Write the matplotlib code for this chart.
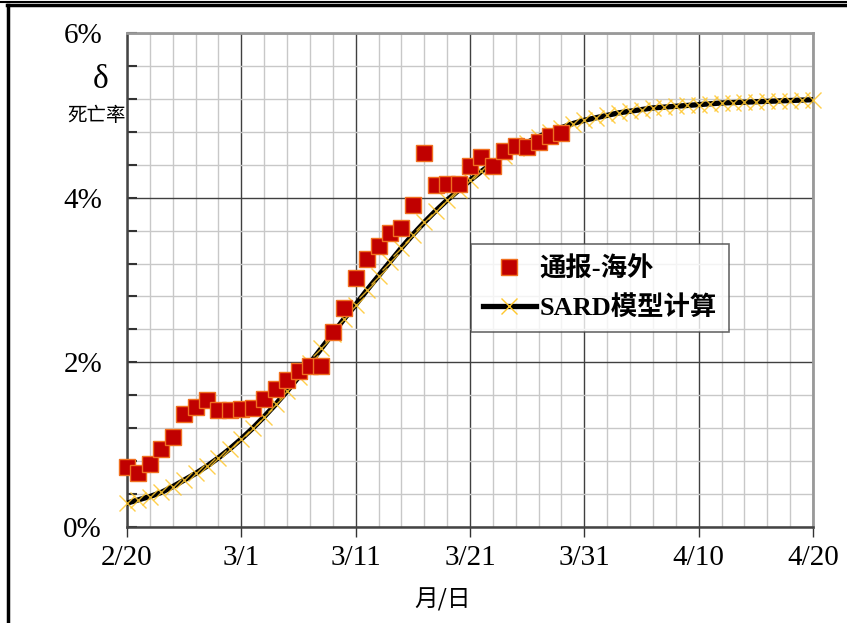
import numpy as np
import matplotlib
matplotlib.use('Agg')
import matplotlib.pyplot as plt
from matplotlib.lines import Line2D
from matplotlib.ticker import MultipleLocator

# day index counted from 2/20
report_days = list(range(0, 39))
report_rate = [0.73, 0.65, 0.77, 0.95, 1.09, 1.37, 1.46, 1.54, 1.42, 1.42,
               1.43, 1.44, 1.55, 1.68, 1.79, 1.89, 1.95, 1.95, 2.37, 2.66,
               3.02, 3.25, 3.41, 3.57, 3.63, 3.91, 4.54, 4.15, 4.17, 4.17,
               4.38, 4.49, 4.38, 4.57, 4.63, 4.61, 4.68, 4.75, 4.79]

model_days = list(range(0, 61))
model_rate = [0.29, 0.33, 0.37, 0.42, 0.49, 0.57, 0.65, 0.74, 0.84, 0.95,
              1.07, 1.20, 1.34, 1.49, 1.65, 1.82, 1.99, 2.17, 2.35, 2.53,
              2.70, 2.88, 3.05, 3.22, 3.39, 3.55, 3.70, 3.84, 3.97, 4.09,
              4.21, 4.32, 4.42, 4.51, 4.60, 4.67, 4.74, 4.80, 4.85, 4.90,
              4.94, 4.97, 5.00, 5.03, 5.05, 5.07, 5.09, 5.10, 5.11, 5.12,
              5.13, 5.14, 5.15, 5.155, 5.16, 5.165, 5.17, 5.175, 5.18, 5.185,
              5.19]

x_ticks = [0, 10, 20, 30, 40, 50, 60]
x_labels = ['2/20', '3/1', '3/11', '3/21', '3/31', '4/10', '4/20']
y_ticks = [0, 2, 4, 6]
y_labels = ['0%', '2%', '4%', '6%']

serif = ['Liberation Serif', 'Noto Sans CJK SC']
plt.rcParams['font.family'] = serif

fig = plt.figure(figsize=(8.47, 6.23), dpi=100)
ax = fig.add_axes([127 / 847, 1 - 527 / 623, 686 / 847, 494 / 623])

ax.set_xlim(0, 60)
ax.set_ylim(0, 6)

ax.xaxis.set_minor_locator(MultipleLocator(2))
ax.yaxis.set_minor_locator(MultipleLocator(0.4))
ax.set_xticks(x_ticks)
ax.set_xticklabels(x_labels, fontsize=21)
ax.set_yticks(y_ticks)
ax.set_yticklabels(y_labels, fontsize=21)

ax.grid(which='minor', color='#c8c8c8', lw=1.0, zorder=0)
ax.grid(which='major', color='#404040', lw=1.0, zorder=0)
ax.set_axisbelow(True)

ax.tick_params(axis='x', which='major', direction='out', length=7, width=1, color='#333333', pad=6)
ax.tick_params(axis='x', which='minor', length=0)
ax.tick_params(axis='y', which='major', direction='in', length=7, width=1.5, color='#333333', pad=18)
ax.tick_params(axis='y', which='minor', direction='in', length=7, width=1.5, color='#333333')

for side in ['left', 'bottom']:
    ax.spines[side].set_color('#444444')
    ax.spines[side].set_linewidth(1.8)
for side in ['top', 'right']:
    ax.spines[side].set_color('#999999')
    ax.spines[side].set_linewidth(2)

# model curve: thick black line with yellow crosses at each day
ax.plot(model_days, model_rate, color='black', lw=3.8, zorder=3, solid_capstyle='round')
ax.plot(model_days, model_rate, ls='none', marker='x', ms=11, mew=1.0,
        color='#ffc72c', alpha=0.85, zorder=4, clip_on=False)

# reported values
ax.plot(report_days, report_rate, ls='none', marker='s', ms=11,
        mfc='#c00000', mec='#f07020', mew=1.0, zorder=5, clip_on=False)

handles = [
    Line2D([], [], ls='none', marker='s', ms=11, mfc='#c00000', mec='#f07020', mew=1.0),
    Line2D([], [], color='black', lw=3.8, marker='x', ms=11, mew=1.0, mec='#ffc72c'),
]
leg = ax.legend(handles, ['通报-海外', 'SARD模型计算'], loc='upper left',
                bbox_to_anchor=((471 - 127) / 686, (527 - 244) / 494),
                prop={'family': serif, 'weight': 'bold', 'size': 19},
                frameon=True, fancybox=False, borderpad=0.45, labelspacing=0.55,
                handlelength=2.0, handletextpad=0.15, borderaxespad=0)
leg.get_frame().set_edgecolor('#444444')
leg.get_frame().set_linewidth(1.2)
leg.set_zorder(6)

fig.text(101 / 847, 1 - 80 / 623, 'δ', fontsize=24, ha='center', va='center')
fig.text(97 / 847, 1 - 116 / 623, '死亡率', fontsize=14, ha='center', va='center',
         family=['Noto Sans CJK SC'])
fig.text(443 / 847, 1 - 600 / 623, '月/日', fontsize=17, ha='center', va='center',
         family=['Noto Sans CJK SC'])

# outer frame: double rule along top, single rule on the left
fig.add_artist(Line2D([0, 1], [1 - 1.5 / 623, 1 - 1.5 / 623], color='black', lw=1.5,
                      transform=fig.transFigure))
fig.add_artist(Line2D([7 / 847, 1], [1 - 5 / 623, 1 - 5 / 623], color='black', lw=2.5,
                      transform=fig.transFigure))
fig.add_artist(Line2D([7.5 / 847, 7.5 / 847], [0, 1 - 5 / 623], color='black', lw=2.5,
                      transform=fig.transFigure))

fig.savefig('out.png', dpi=100)
